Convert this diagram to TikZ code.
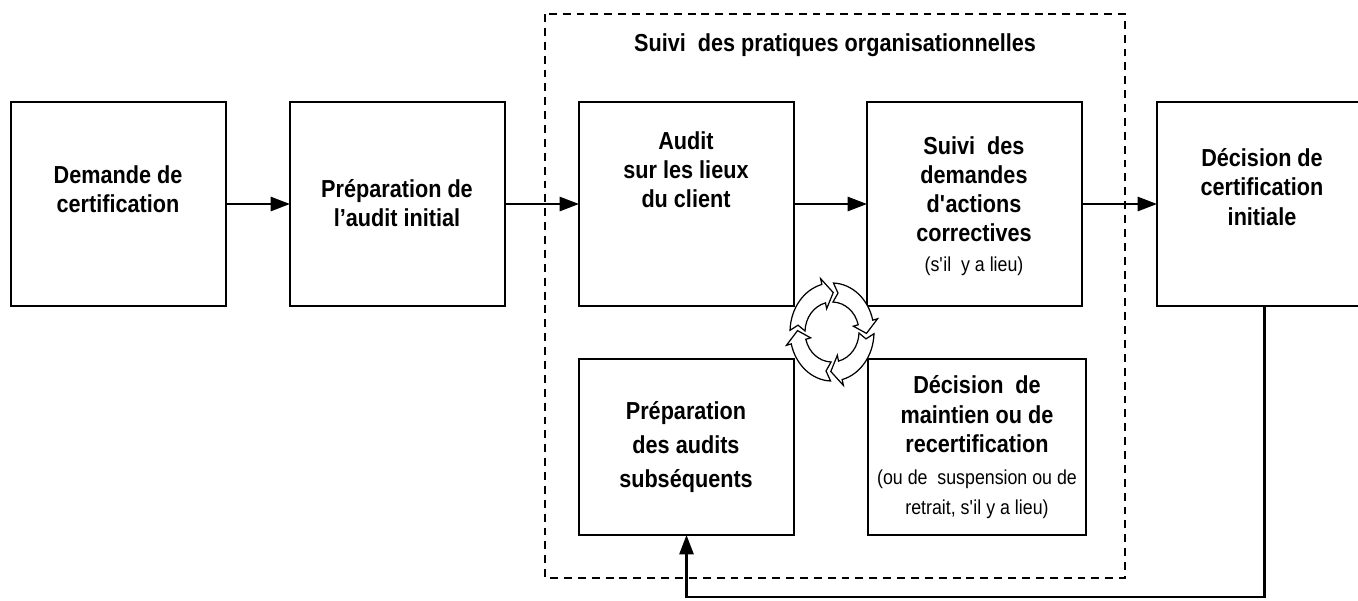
\documentclass[tikz,border=0pt]{standalone}
\usepackage{fontspec}
\setmainfont{Liberation Sans}[FakeStretch=0.88]
\usetikzlibrary{arrows.meta}
\def\sub#1{{\mdseries\fontsize{11.5}{14}\selectfont #1}}
\begin{document}
\begin{tikzpicture}[x=0.02cm, y=-0.02cm,
		box/.style={draw, line width=0.8pt, inner sep=0pt, outer sep=0pt, minimum width=4.3cm, minimum height=4.08cm},
		lowbox/.style={box, minimum height=3.52cm},
		txt/.style={align=center, inner sep=0pt, font=\bfseries\fontsize{14}{16.6}\selectfont},
		flow/.style={line width=1.4pt, -{Triangle[length=11pt, width=8pt]}},
		frame/.style={line width=0.7pt, dash pattern=on 4.5pt off 3.4pt},
		cyc/.style={line width=0.7pt, fill=white}]
			%%%%% START %%%%%
			\useasboundingbox (0,0) rectangle (1358,600);
			
			\draw[frame] (545,14) rectangle (1125,578);
			\node[txt] (title) at (835,45) {Suivi~ des pratiques organisationnelles};
			
			\node[box] (req) at (118.5,204) {};
			\node[txt] (reqtxt) at (118,189) {Demande de\\certification};
			
			\node[box] (prep) at (397.5,204) {};
			\node[txt] (preptxt) at (397,203) {Préparation de\\l’audit initial};
			
			\node[box] (audit) at (686.5,204) {};
			\node[txt] (audittxt) at (686,170) {Audit\\sur les lieux\\du client};
			
			\node[box] (follow) at (974.5,204) {};
			\node[txt] (followtxt) at (974,206) {Suivi~ des\\demandes\\d\textquotesingle actions\\correctives\\\sub{(s\textquotesingle il~ y a lieu)}};
			
			\node[box] (init) at (1264.5,204) {};
			\node[txt] (inittxt) at (1262,187) {Décision de\\certification\\initiale};
			
			\node[lowbox] (prepsub) at (686.5,447) {};
			\node[txt] (prepsubtxt) at (686,447) {Préparation\\[3pt]des audits\\[3pt]subséquents};
			
			\node[lowbox, minimum width=4.36cm] (maint) at (977,447) {};
			\node[txt] (mainttxt) at (977,447) {Décision~ de\\maintien ou de\\recertification\\[2pt]\sub{(ou de~ suspension ou de}\\\sub{retrait, s\textquotesingle il y a lieu)}};
			
			\draw[flow] (req.east) -- (prep.west);
			\draw[flow] (prep.east) -- (audit.west);
			\draw[flow] (audit.east) -- (follow.west);
			\draw[flow] (follow.east) -- (init.west);
			
			\coordinate (ret) at (0,597);
			\draw[flow] (init.south) -- (init.south |- ret) -| (prepsub.south);
			
			% cycle in the middle
			\begin{scope}[shift={(832,332)}, x=0.02cm, y=0.02cm]
				\foreach \a in {0,90,180,270}{
					\draw[cyc] (\a+88:42 and 49) arc[start angle=\a+88, end angle=\a+14, x radius=42, y radius=49]
						-- (\a+14:47 and 55) -- (\a-2:34.5 and 39.5) -- (\a+14:22 and 24) -- (\a+14:27 and 30)
						arc[start angle=\a+14, end angle=\a+88, x radius=27, y radius=30] -- (\a+80:34.5 and 39.5) -- cycle;
				}
			\end{scope}
			
			%%%%% END %%%%%
\end{tikzpicture}
\end{document}
